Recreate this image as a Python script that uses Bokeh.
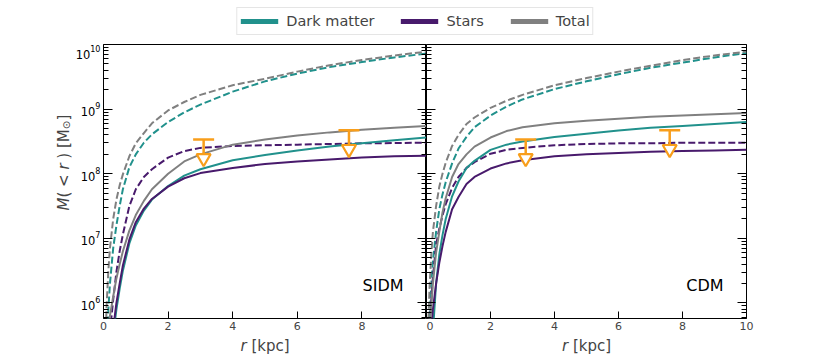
import numpy as np
from bokeh.plotting import figure
from bokeh.models import (FixedTicker, LogAxis, Legend, LegendItem, Label,
                          Range1d, CustomJSTickFormatter)
from bokeh.layouts import column, row
from bokeh.embed import file_html
from bokeh.resources import INLINE

# ---------------- data ----------------
radius_kpc = [0.05, 0.1, 0.15, 0.2, 0.3, 0.4, 0.5, 0.6, 0.8, 1.0, 1.25, 1.5,
              2.0, 2.5, 3.0, 4.0, 5.0, 6.0, 7.0, 8.0, 9.0, 10.0]

# log10 M(<r) [Msun] -- SIDM panel
sidm_dm_solid = [3.3, 4.1, 4.6, 5.0, 5.5, 5.9, 6.22, 6.5, 6.92, 7.2, 7.43, 7.6,
                 7.81, 7.97, 8.07, 8.21, 8.29, 8.36, 8.42, 8.47, 8.52, 8.56]
sidm_stars_solid = [3.5, 4.3, 4.8, 5.2, 5.6, 6.0, 6.3, 6.58, 6.98, 7.25, 7.46, 7.61,
                    7.80, 7.93, 8.01, 8.09, 8.15, 8.19, 8.22, 8.25, 8.27, 8.28]
sidm_total_solid = [4.6, 5.2, 5.55, 5.8, 6.1, 6.38, 6.6, 6.8, 7.12, 7.36, 7.58, 7.76,
                    8.0, 8.19, 8.30, 8.45, 8.53, 8.59, 8.64, 8.68, 8.71, 8.74]
sidm_dm_dashed = [4.6, 5.3, 5.9, 6.3, 6.85, 7.2, 7.5, 7.76, 8.1, 8.3, 8.48, 8.61,
                  8.80, 8.95, 9.07, 9.27, 9.43, 9.55, 9.65, 9.73, 9.80, 9.86]
sidm_stars_dashed = [4.0, 4.7, 5.2, 5.55, 6.05, 6.48, 6.8, 7.06, 7.5, 7.76, 7.95, 8.07,
                     8.25, 8.35, 8.40, 8.43, 8.44, 8.45, 8.46, 8.47, 8.475, 8.48]
sidm_total_dashed = [5.3, 6.0, 6.5, 6.85, 7.3, 7.6, 7.82, 7.99, 8.27, 8.47, 8.63, 8.78,
                     8.98, 9.11, 9.22, 9.37, 9.47, 9.58, 9.68, 9.76, 9.83, 9.89]

# log10 M(<r) [Msun] -- CDM panel
cdm_dm_solid = [3.5, 4.3, 4.9, 5.55, 6.3, 6.75, 7.05, 7.3, 7.65, 7.88, 8.09, 8.2,
                8.37, 8.45, 8.50, 8.57, 8.62, 8.67, 8.71, 8.74, 8.77, 8.80]
cdm_stars_solid = [4.6, 5.2, 5.6, 5.9, 6.3, 6.62, 6.88, 7.1, 7.45, 7.64, 7.84, 7.95,
                   8.08, 8.16, 8.21, 8.27, 8.30, 8.32, 8.34, 8.35, 8.36, 8.37]
cdm_total_solid = [5.0, 5.6, 5.95, 6.3, 6.78, 7.1, 7.4, 7.62, 7.95, 8.15, 8.3, 8.42,
                   8.56, 8.66, 8.72, 8.78, 8.82, 8.85, 8.88, 8.90, 8.92, 8.94]
cdm_dm_dashed = [5.0, 5.8, 6.3, 6.65, 7.1, 7.45, 7.68, 7.87, 8.16, 8.39, 8.57, 8.72,
                 8.90, 9.04, 9.15, 9.31, 9.43, 9.54, 9.64, 9.72, 9.80, 9.87]
cdm_stars_dashed = [4.9, 5.6, 6.05, 6.4, 6.9, 7.15, 7.35, 7.53, 7.78, 7.95, 8.09, 8.18,
                    8.31, 8.37, 8.40, 8.44, 8.46, 8.47, 8.47, 8.48, 8.48, 8.48]
cdm_total_dashed = [5.6, 6.3, 6.75, 7.1, 7.5, 7.8, 8.0, 8.17, 8.43, 8.6, 8.77, 8.87,
                    9.02, 9.13, 9.22, 9.37, 9.48, 9.58, 9.67, 9.76, 9.83, 9.89]

# upper limits (r [kpc], M [Msun])
sidm_limit_r = [3.1, 7.6]
sidm_limit_m = [3.4e8, 4.7e8]
cdm_limit_r = [3.1, 7.6]
cdm_limit_m = [3.4e8, 4.7e8]

panel_names = ["SIDM", "CDM"]
legend_labels = ["Dark matter", "Stars", "Total"]
x_tick_left = [0, 2, 4, 6, 8]
x_tick_right = [0, 2, 4, 6, 8, 10]
y_major = [1e6, 1e7, 1e8, 1e9, 1e10]

# ---------------- style ----------------
C_DM = "#21918c"
C_ST = "#481a6c"
C_TOT = "#808080"
C_LIM = "#f89e1b"
FONT = "DejaVu Sans"
DASH = "7 3"
ARROW_DEX = 0.29
Y_START, Y_END = 5.75e5, 1e10
FRAME_H = 274
BOTTOM = 18
y_minor = [k * 10.0 ** e for e in range(5, 10) for k in range(2, 10)]


def blank_fig(w, h):
    f = figure(width=w, height=h, x_range=Range1d(0, 1), y_range=Range1d(0, 1),
               output_backend="svg", toolbar_location=None, min_border=0,
               x_axis_location=None, y_axis_location=None)
    f.outline_line_color = None
    f.xgrid.visible = False
    f.ygrid.visible = False
    f.background_fill_color = "white"
    f.border_fill_color = "white"
    return f


def style_y_axis(ax, labels):
    ax.ticker = FixedTicker(ticks=y_major, minor_ticks=y_minor)
    ax.major_tick_in = 9
    ax.major_tick_out = 0
    ax.minor_tick_in = 5
    ax.minor_tick_out = 0
    ax.major_tick_line_color = "black"
    ax.minor_tick_line_color = "black"
    ax.axis_line_color = None
    if labels:
        ax.major_label_text_font = FONT
        ax.major_label_text_font_size = "11.5px"
        ax.major_label_text_color = "black"
        ax.major_label_standoff = 3
    else:
        ax.formatter = CustomJSTickFormatter(code="return ''")
        ax.major_label_text_font_size = "0px"
        ax.major_label_standoff = 0


def make_panel(name, curves, lim_r, lim_m, xticks, frame_w, left_border,
               right_border, with_labels):
    p = figure(frame_width=frame_w, frame_height=FRAME_H,
               x_range=Range1d(0, 10), y_range=Range1d(Y_START, Y_END),
               y_axis_type="log", output_backend="svg", toolbar_location=None,
               min_border_left=left_border, min_border_right=right_border,
               min_border_top=0, min_border_bottom=BOTTOM)
    p.xgrid.visible = False
    p.ygrid.visible = False
    p.outline_line_color = "black"
    p.outline_line_width = 1
    p.background_fill_color = "white"
    p.border_fill_color = "white"

    xa = p.xaxis[0]
    xa.ticker = FixedTicker(ticks=xticks)
    xa.major_tick_in = 7
    xa.major_tick_out = 0
    xa.minor_tick_line_color = None
    xa.axis_line_color = None
    xa.major_label_text_font = FONT
    xa.major_label_text_font_size = "11px"
    xa.major_label_standoff = 3

    style_y_axis(p.yaxis[0], with_labels)
    ra = LogAxis()
    style_y_axis(ra, False)
    p.add_layout(ra, "right")

    dm_s, st_s, tot_s, dm_d, st_d, tot_d = curves
    for vals, col, dash in [(dm_d, C_DM, DASH), (st_d, C_ST, DASH), (tot_d, C_TOT, DASH),
                            (dm_s, C_DM, "solid"), (st_s, C_ST, "solid"),
                            (tot_s, C_TOT, "solid")]:
        p.line(x=radius_kpc, y=10.0 ** np.array(vals), line_color=col,
               line_width=2, line_dash=dash)

    lm = np.array(lim_m)
    low = lm * 10.0 ** (-ARROW_DEX)
    p.segment(x0=lim_r, y0=lm, x1=lim_r, y1=low, line_color=C_LIM, line_width=2.5)
    p.scatter(x=lim_r, y=lm, marker="dash", size=21, line_color=C_LIM, line_width=2.5)
    p.scatter(x=lim_r, y=low, marker="inverted_triangle", size=14, line_color=C_LIM,
              fill_color="white", line_width=2.2)

    p.add_layout(Label(x=frame_w - 23, y=33, x_units="screen", y_units="screen",
                       text=name, text_align="right", text_baseline="middle",
                       text_font=FONT, text_font_size="16px", text_color="black"))
    return p


# ---- layout geometry (page starts at 0,0) ----
YLAB_W = 72
LEFT_FRAME_X = 103
LEFT_W, RIGHT_W = 323, 320
PANEL_H = FRAME_H + BOTTOM

left = make_panel(panel_names[0],
                  [sidm_dm_solid, sidm_stars_solid, sidm_total_solid,
                   sidm_dm_dashed, sidm_stars_dashed, sidm_total_dashed],
                  sidm_limit_r, sidm_limit_m, x_tick_left, LEFT_W,
                  LEFT_FRAME_X - YLAB_W, 0, True)
right = make_panel(panel_names[1],
                   [cdm_dm_solid, cdm_stars_solid, cdm_total_solid,
                    cdm_dm_dashed, cdm_stars_dashed, cdm_total_dashed],
                   cdm_limit_r, cdm_limit_m, x_tick_right, RIGHT_W, 0, 74, False)

# legend strip on top
lg = blank_fig(830, 44)
items = []
for lab, col in zip(legend_labels, [C_DM, C_ST, C_TOT]):
    r = lg.line(x=[np.nan], y=[np.nan], line_color=col, line_width=5)
    items.append(LegendItem(label=lab, renderers=[r]))
legend = Legend(items=items, location="top_center", orientation="horizontal",
                margin=7, padding=3, spacing=26, glyph_width=38, glyph_height=20,
                label_height=20, label_standoff=8, label_text_font=FONT,
                label_text_font_size="14.5px", border_line_color="#cccccc",
                border_line_width=1, background_fill_color="white",
                background_fill_alpha=1.0)
lg.add_layout(legend)

# y-axis label strip:  M( < r ) [M_sun]
ylab = blank_fig(YLAB_W, PANEL_H)
fs = 15
yy = PANEL_H - (180 - 44) - 48
pieces = [("M", "italic", 15, 0.863, 0.0),
          ("(", "normal", 15, 0.390, 0.318),
          ("<", "normal", 15, 0.838, 0.318),
          ("r", "italic", 15, 0.411, 0.318),
          (")", "normal", 15, 0.390, 0.318),
          ("[M", "normal", 15, 1.253, 0.0),
          ("\u2299", "normal", 10.5, 0.838, 0.0),
          ("]", "normal", 15, 0.390, 0.0)]
for txt, style, size, adv, space_after in pieces:
    dx = 2.5 if size < 12 else 0
    ylab.add_layout(Label(x=63 + dx, y=yy, x_units="screen", y_units="screen",
                          text=txt, angle=np.pi / 2, text_font=FONT,
                          text_font_style=style, text_font_size=f"{size}px",
                          text_baseline="middle", text_align="left"))
    yy += adv * size + space_after * fs

# x-axis label strip:  r [kpc]  under each panel
XLAB_H = 356 - 44 - PANEL_H - 1
xlab = blank_fig(822, XLAB_H)
lab_w = (0.411 + 0.318 + 0.390 + 0.579 + 0.635 + 0.550 + 0.390) * fs
for frame_x, fw in [(LEFT_FRAME_X, LEFT_W), (LEFT_FRAME_X + LEFT_W, RIGHT_W)]:
    x0 = frame_x + fw / 2 - lab_w / 2
    xlab.add_layout(Label(x=x0, y=XLAB_H - 9, x_units="screen", y_units="screen",
                          text="r", text_font=FONT, text_font_style="italic",
                          text_font_size="15px", text_baseline="middle",
                          text_align="left"))
    xlab.add_layout(Label(x=x0 + (0.411 + 0.318) * fs, y=XLAB_H - 9, x_units="screen",
                          y_units="screen", text="[kpc]", text_font=FONT,
                          text_font_size="15px", text_baseline="middle",
                          text_align="left"))

p = column(lg, row(ylab, left, right), xlab)
open("out.html", "w").write(file_html(p, INLINE))
